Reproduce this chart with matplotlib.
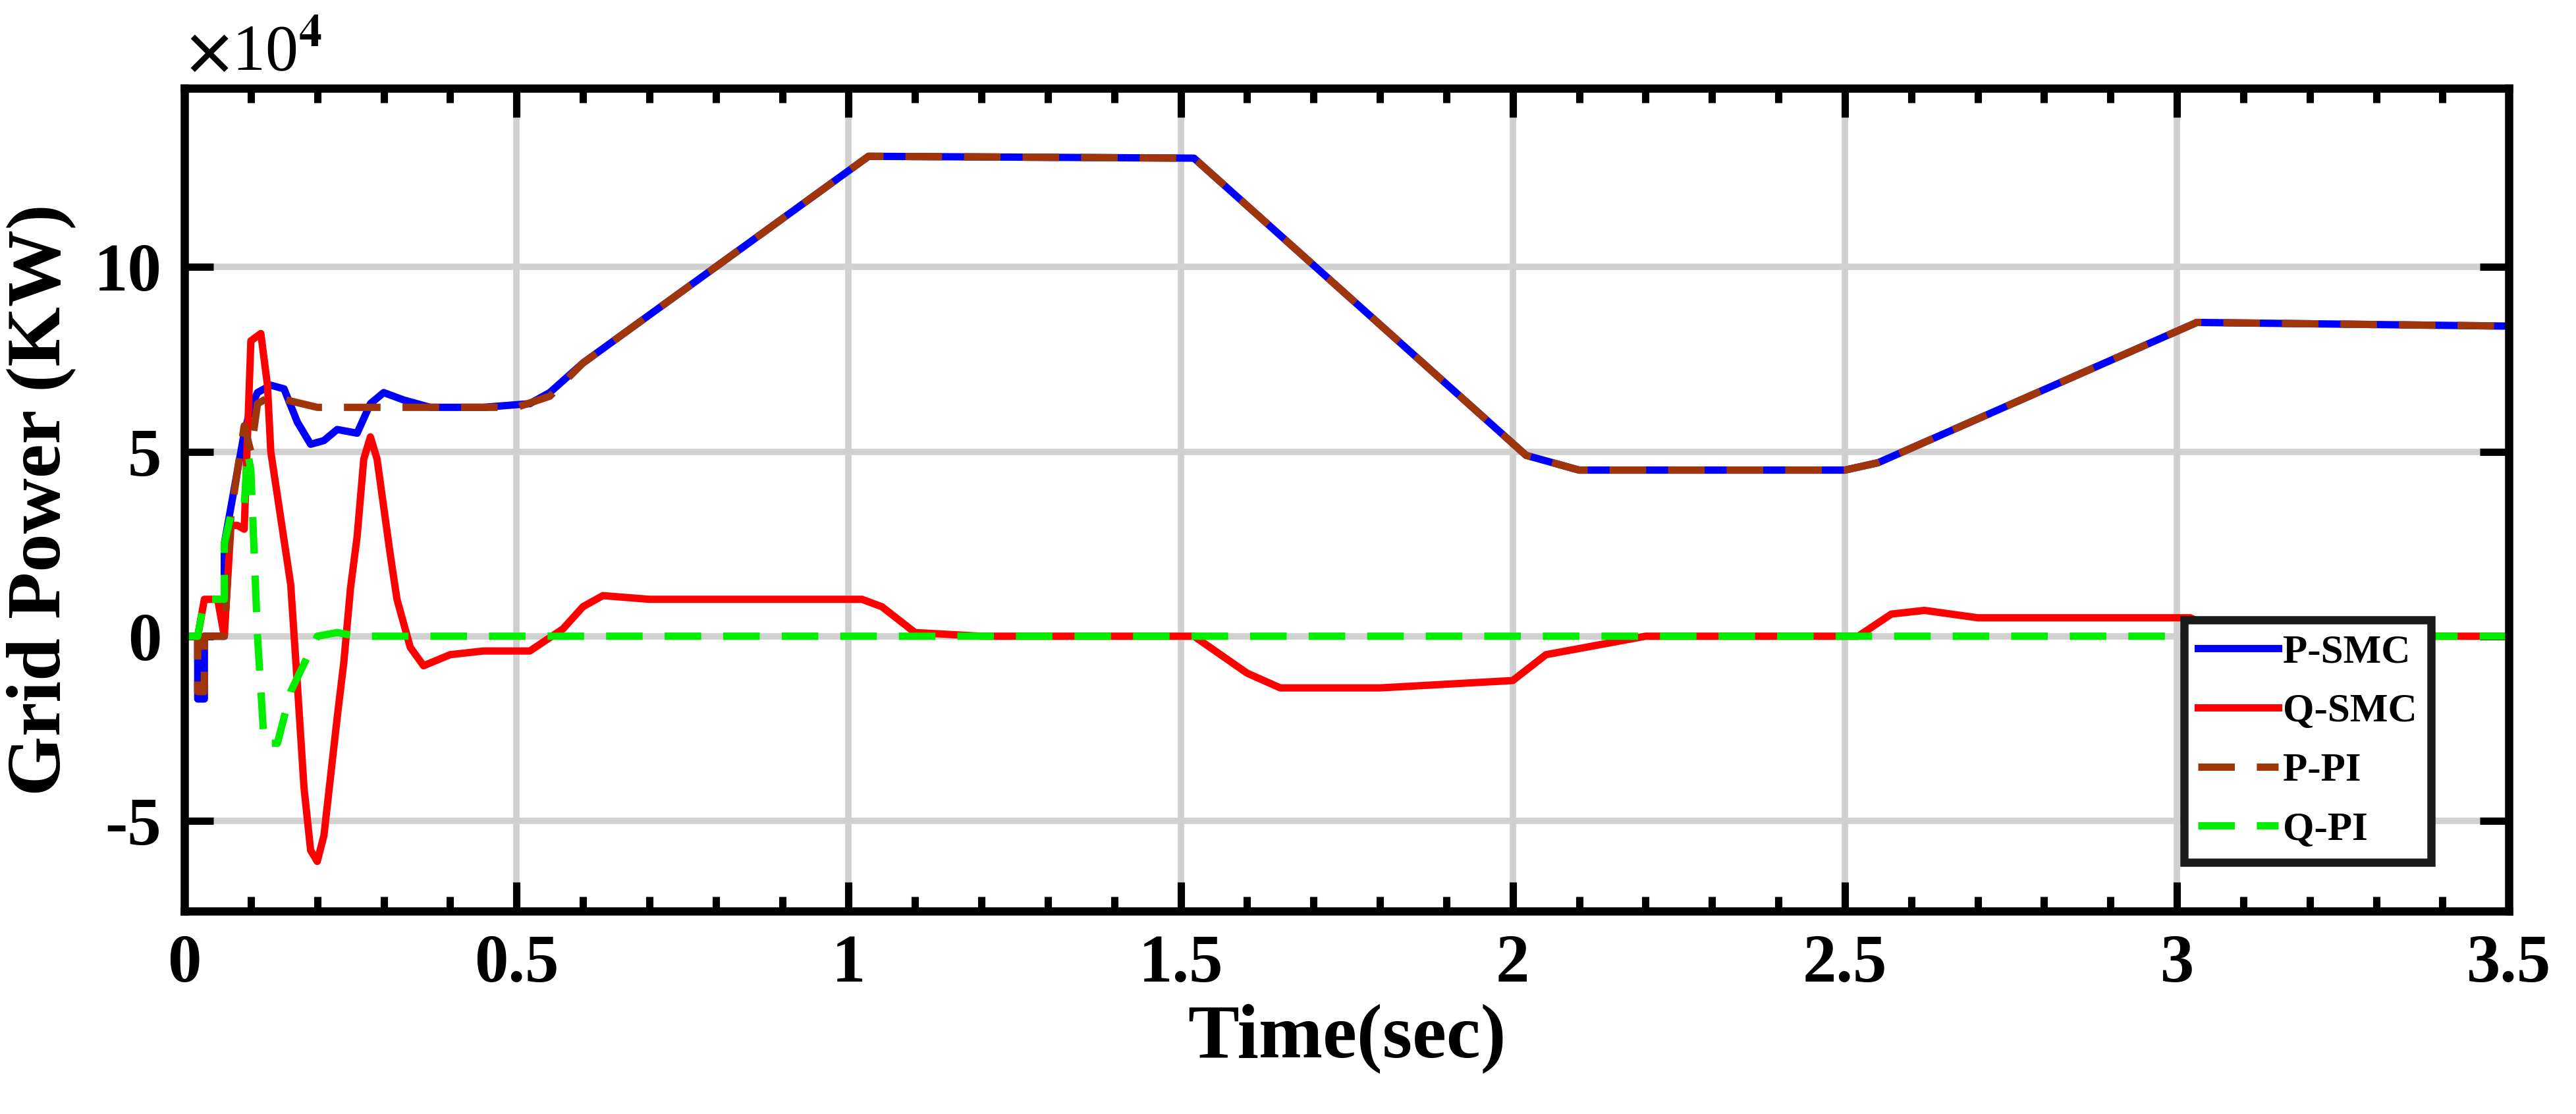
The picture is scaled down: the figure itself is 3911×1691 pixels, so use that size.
import matplotlib.pyplot as plt

# time (s) and grid power (x1e4 W)
t_psmc = [0, 0.02, 0.02, 0.03, 0.03, 0.06, 0.06, 0.07, 0.08, 0.09, 0.10, 0.11, 0.13, 0.15, 0.17, 0.19,
          0.21, 0.23, 0.26, 0.28, 0.30, 0.33, 0.37, 0.45, 0.52, 0.55, 0.60, 1.03, 1.52, 2.02, 2.10,
          2.50, 2.55, 3.03, 3.50]
p_smc = [0, 0, -1.7, -1.7, 0, 0, 2.5, 3.5, 4.5, 5.5, 6.2, 6.6, 6.8, 6.7, 5.8, 5.2,
         5.3, 5.6, 5.5, 6.3, 6.6, 6.4, 6.2, 6.2, 6.3, 6.6, 7.4, 13.0, 12.95, 4.9, 4.5,
         4.5, 4.7, 8.5, 8.4]

t_ppi = [0, 0.02, 0.02, 0.03, 0.03, 0.06, 0.07, 0.08, 0.09, 0.10, 0.11, 0.13, 0.20, 0.50, 0.55,
         0.60, 1.03, 1.52, 2.02, 2.10, 2.50, 2.55, 3.03, 3.50]
p_pi = [0, 0, -1.5, -1.5, 0, 0, 3.3, 4.5, 5.7, 5.0, 6.3, 6.5, 6.2, 6.2, 6.5,
        7.4, 13.0, 12.95, 4.9, 4.5, 4.5, 4.7, 8.5, 8.4]

t_qsmc = [0, 0.02, 0.03, 0.05, 0.06, 0.07, 0.08, 0.09, 0.10, 0.115, 0.125, 0.13, 0.145, 0.16, 0.17,
          0.18, 0.19, 0.20, 0.21, 0.22, 0.23, 0.24, 0.25, 0.26, 0.27, 0.28, 0.29, 0.30, 0.31, 0.32,
          0.34, 0.36, 0.40, 0.45, 0.52, 0.57, 0.60, 0.63, 0.70, 1.02, 1.05, 1.10, 1.20, 1.52, 1.60,
          1.65, 1.80, 2.00, 2.05, 2.20, 2.52, 2.57, 2.62, 2.70, 3.02, 3.08, 3.50]
q_smc = [0, 0, 1.0, 1.0, 0, 3.0, 3.0, 2.9, 8.0, 8.2, 6.8, 5.0, 3.2, 1.4, -1.3,
         -4.1, -5.8, -6.1, -5.4, -3.8, -2.2, -0.7, 1.3, 2.7, 4.8, 5.4, 4.8, 3.5, 2.2, 1.0,
         -0.3, -0.8, -0.5, -0.4, -0.4, 0.2, 0.8, 1.1, 1.0, 1.0, 0.8, 0.1, 0, 0, -1.0,
         -1.4, -1.4, -1.2, -0.5, 0, 0, 0.6, 0.7, 0.5, 0.5, 0, 0]

t_qpi = [0, 0.02, 0.03, 0.06, 0.06, 0.07, 0.09, 0.095, 0.10, 0.11, 0.12, 0.14, 0.16, 0.20, 0.23, 0.26, 3.50]
q_pi = [0, 0, 1.0, 1.0, 2.5, 3.3, 3.5, 5.0, 4.5, 0, -2.9, -2.9, -1.5, 0, 0.1, 0, 0]

plt.rcParams['font.family'] = 'Liberation Serif'
plt.rcParams['font.weight'] = 'bold'

fig = plt.figure(figsize=(39.11, 16.91), dpi=100)
ax = fig.add_axes([0.0716, 0.182, 0.9024, 0.739])

lw = 8
ax.plot(t_psmc, p_smc, color='blue', lw=lw, label='P-SMC')
ax.plot(t_qsmc, q_smc, color='red', lw=lw, label='Q-SMC')
ax.plot(t_ppi, p_pi, color='#a0350a', lw=lw, ls=(0, (5, 3)), label='P-PI')
ax.plot(t_qpi, q_pi, color='#00ee00', lw=lw, ls=(0, (5, 3)), label='Q-PI')

ax.set_xlim(0, 3.5)
ax.set_ylim(-7.45, 14.85)
ax.set_xticks([0, 0.5, 1, 1.5, 2, 2.5, 3, 3.5])
ax.set_xticklabels(['0', '0.5', '1', '1.5', '2', '2.5', '3', '3.5'])
ax.set_xticks([i / 10 for i in range(36)], minor=True)
ax.set_yticks([-5, 0, 5, 10])
ax.set_yticklabels(['-5', '0', '5', '10'])
ax.grid(True, color='#d0d0d0', lw=7)
ax.tick_params(which='both', direction='in', top=True, right=True, labelsize=74, width=8, pad=25)
ax.tick_params(which='major', length=32)
ax.tick_params(which='minor', length=16)
for s in ax.spines.values():
    s.set_linewidth(9)

ax.set_xlabel('Time(sec)', fontsize=84, fontweight='bold', labelpad=8)
ax.set_ylabel('Grid Power (KW)', fontsize=84, fontweight='bold', labelpad=20)
fig.text(0.072, 0.925, r'$\times$10$^4$', fontsize=72, fontweight='normal', va='bottom',
         math_fontfamily='stix')

leg = ax.legend(loc='lower right', bbox_to_anchor=(0.975, 0.035), fontsize=44, frameon=True,
                fancybox=False, handlelength=2.0, borderpad=0.35, labelspacing=0.55,
                handletextpad=0.1, framealpha=1)
leg.get_frame().set_edgecolor('#1a1a1a')
leg.get_frame().set_linewidth(9)

fig.savefig('out.png', dpi=100)
